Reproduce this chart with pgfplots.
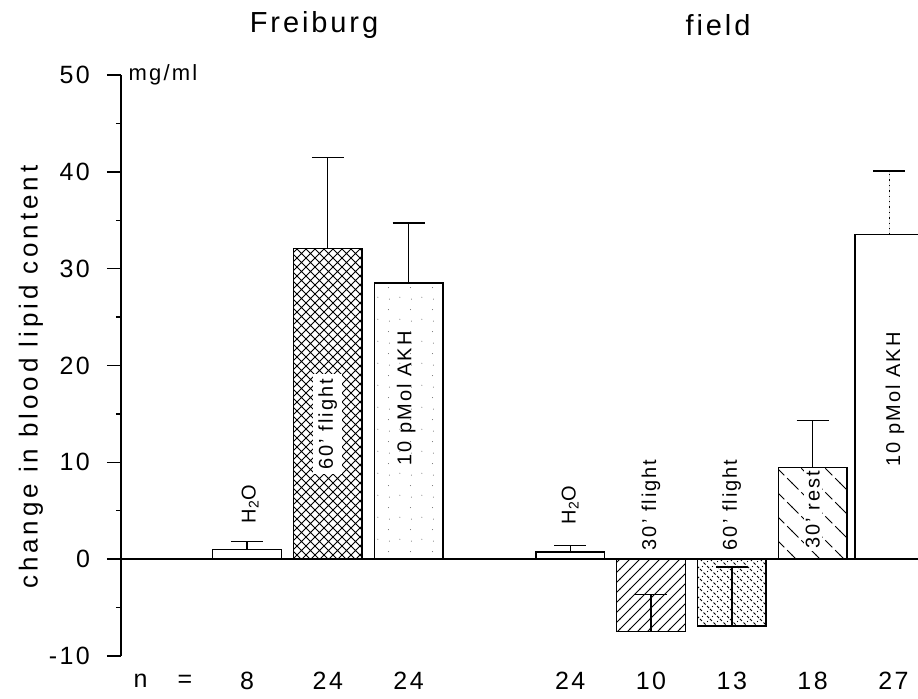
\documentclass[border=0pt]{standalone}
\usepackage{fontspec}
\setmainfont{Liberation Sans}[LetterSpace=10]
\usepackage{pgfplots}
\pgfplotsset{compat=1.18}
\usetikzlibrary{patterns}

% diagonal cross-hatching
\pgfdeclarepatternformonly{diagcross}{\pgfqpoint{-1pt}{-1pt}}{\pgfqpoint{5.5pt}{5.5pt}}{\pgfqpoint{4.5pt}{4.5pt}}{%
  \pgfsetlinewidth{0.45pt}%
  \pgfpathmoveto{\pgfqpoint{-0.3pt}{-0.3pt}}\pgfpathlineto{\pgfqpoint{4.8pt}{4.8pt}}%
  \pgfpathmoveto{\pgfqpoint{-0.3pt}{4.8pt}}\pgfpathlineto{\pgfqpoint{4.8pt}{-0.3pt}}%
  \pgfusepath{stroke}}
% rising hatch lines
\pgfdeclarepatternformonly{risehatch}{\pgfqpoint{-1pt}{-1pt}}{\pgfqpoint{6pt}{6pt}}{\pgfqpoint{5pt}{5pt}}{%
  \pgfsetlinewidth{0.45pt}%
  \pgfpathmoveto{\pgfqpoint{-0.3pt}{-0.3pt}}\pgfpathlineto{\pgfqpoint{5.3pt}{5.3pt}}%
  \pgfusepath{stroke}}
% sparse falling dashed hatch
\pgfdeclarepatternformonly{sparsefall}{\pgfqpoint{-1pt}{-1pt}}{\pgfqpoint{13pt}{13pt}}{\pgfqpoint{12pt}{12pt}}{%
  \pgfsetlinewidth{0.45pt}%
  \pgfsetdash{{5pt}{2pt}}{0pt}%
  \pgfpathmoveto{\pgfqpoint{-0.3pt}{12.3pt}}\pgfpathlineto{\pgfqpoint{12.3pt}{-0.3pt}}%
  \pgfusepath{stroke}}
% dotted cross-hatching
\pgfdeclarepatternformonly{dotcross}{\pgfqpoint{-1pt}{-1pt}}{\pgfqpoint{6pt}{6pt}}{\pgfqpoint{5pt}{5pt}}{%
  \pgfsetlinewidth{0.45pt}%
  \pgfsetdash{{1.4pt}{1.1pt}}{0pt}%
  \pgfpathmoveto{\pgfqpoint{0pt}{5pt}}\pgfpathlineto{\pgfqpoint{5pt}{0pt}}%
  \pgfusepath{stroke}%
  \pgfpathcircle{\pgfqpoint{1.25pt}{1.25pt}}{0.35pt}%
  \pgfpathcircle{\pgfqpoint{3.75pt}{3.75pt}}{0.35pt}%
  \pgfusepath{fill}}
% light stipple
\pgfdeclarepatternformonly{stipple}{\pgfqpoint{0pt}{0pt}}{\pgfqpoint{11pt}{11pt}}{\pgfqpoint{11pt}{11pt}}{%
  \pgfpathcircle{\pgfqpoint{2pt}{3pt}}{0.3pt}%
  \pgfpathcircle{\pgfqpoint{7.5pt}{8pt}}{0.3pt}%
  \pgfpathcircle{\pgfqpoint{8pt}{2pt}}{0.25pt}%
  \pgfusepath{fill}}

\pgfplotsset{
  lipidbar/.style={
    ybar, bar shift=0pt, bar width=0.85, draw=black, line width=0.7pt,
    error bars/y dir=plus, error bars/y explicit,
    error bars/error bar style={line width=0.7pt, black},
    error bars/error mark options={rotate=90, line width=0.7pt, mark size=8pt, black, solid},
  },
}
\tikzset{
  barlabel/.style={rotate=90, font=\fontsize{10}{11}\selectfont, inner sep=1pt},
  nlabel/.style={font=\fontsize{12.5}{13}\selectfont},
}

\begin{document}
\begin{tikzpicture}
\begin{axis}[
  at={(0,0)}, anchor=south west,
  scale only axis, width=398.5pt, height=290.5pt,
  xmin=-0.559, xmax=9.304, ymin=-10, ymax=50,
  axis y line=left, axis x line=none,
  axis line style={-, line width=0.7pt},
  xtick=\empty,
  ytick={-10,0,10,20,30,40,50},
  minor y tick num=1,
  tick align=outside,
  major tick length=7pt, minor tick length=2.5pt,
  ytick style={line width=0.7pt, black},
  yticklabel style={font=\fontsize{12.5}{13}\selectfont, xshift=-5pt},
  /pgf/number format/assume math mode=true,
  clip mode=individual,
]
% baseline at zero
\draw[line width=0.7pt] (axis cs:-0.559,0) -- (axis cs:9.304,0);

% Freiburg
\addplot[lipidbar, fill=white] coordinates {(1,1.02) +- (0,0.8)};
\addplot[lipidbar, pattern=diagcross] coordinates {(2,32.1) +- (0,9.4)};
\addplot[lipidbar, pattern=stipple, pattern color=black!60] coordinates {(3,28.5) +- (0,6.2)};
% field
\addplot[lipidbar, fill=white] coordinates {(5,0.74) +- (0,0.65)};
\addplot[lipidbar, pattern=risehatch] coordinates {(6,-7.45) +- (0,3.8)};
\addplot[lipidbar, pattern=dotcross] coordinates {(7,-6.9) +- (0,6.1)};
\addplot[lipidbar, pattern=sparsefall] coordinates {(8,9.45) +- (0,4.85)};
\addplot[lipidbar, fill=white, error bars/error bar style={dotted}] coordinates {(8.95,33.5) +- (0,6.6)};

% bar labels
\node[barlabel] at (axis cs:1.04,5.7) {H\textsubscript{2}O};
\node[barlabel, fill=white, inner sep=2.5pt] at (axis cs:2.0,13.95) {60' flight};
\node[barlabel] at (axis cs:2.97,16.6) {10 pMol AKH};
\node[barlabel] at (axis cs:5.0,5.6) {H\textsubscript{2}O};
\node[barlabel] at (axis cs:6.0,5.6) {30' flight};
\node[barlabel] at (axis cs:7.0,5.6) {60' flight};
\node[barlabel, fill=white] at (axis cs:8.0,5.1) {30' rest};
\node[barlabel] at (axis cs:9.02,16.5) {10 pMol AKH};

% group titles
\node[font=\fontsize{14.5}{16}\selectfont] at (axis cs:1.83,55.2) {Freiburg};
\node[font=\fontsize{14.5}{16}\selectfont] at (axis cs:6.83,55.2) {field};

% unit
\node[anchor=west, font=\fontsize{11}{12}\selectfont, inner sep=0pt] at (axis cs:-0.47,50) {mg/ml};

% axis label
\node[rotate=90, font=\fontsize{13}{14}\selectfont\addfontfeature{LetterSpace=15}] at ([xshift=-45pt]axis cs:-0.559,18.8) {change in blood lipid content};

% sample sizes
\node[nlabel] at (axis cs:-0.04,-12.58) {n\hspace{1.2em}=};
\node[nlabel] at (axis cs:1,-12.58) {8};
\node[nlabel] at (axis cs:2,-12.58) {24};
\node[nlabel] at (axis cs:3,-12.58) {24};
\node[nlabel] at (axis cs:5,-12.58) {24};
\node[nlabel] at (axis cs:6,-12.58) {10};
\node[nlabel] at (axis cs:7,-12.58) {13};
\node[nlabel] at (axis cs:8,-12.58) {18};
\node[nlabel] at (axis cs:9,-12.58) {27};
\end{axis}
\pgfresetboundingbox
\path (-60.5pt,-21.5pt) rectangle (398.5pt,328pt);
\end{tikzpicture}
\end{document}
